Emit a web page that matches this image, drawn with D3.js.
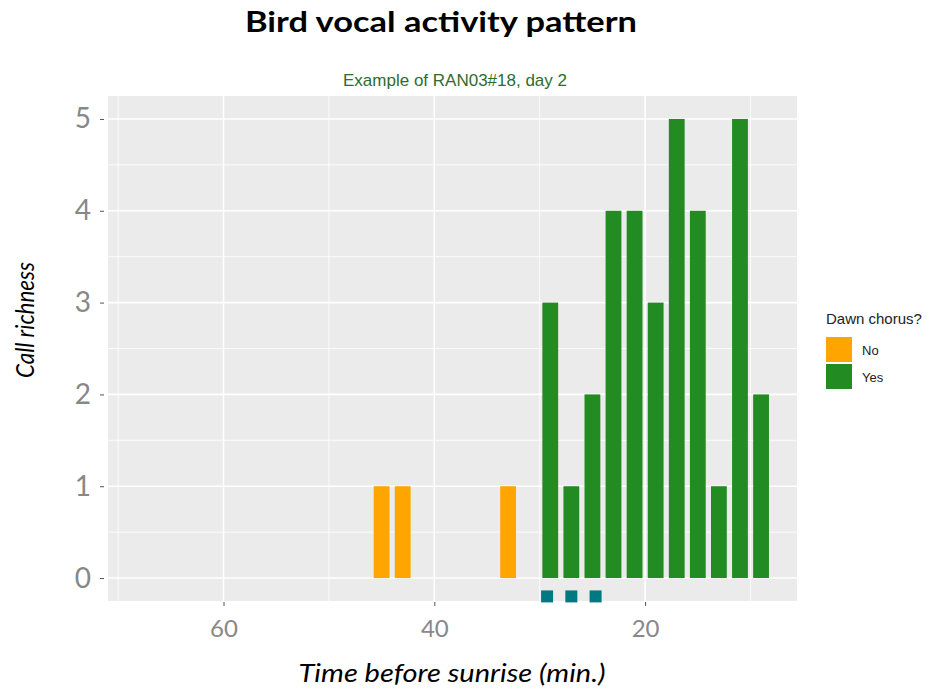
<!DOCTYPE html>
<html>
<head>
<meta charset="utf-8">
<script src="https://cdn.jsdelivr.net/npm/d3@7"></script>
<style>
  body { margin: 0; background: #fff; }
  svg { display: block; font-family: Lato, "Open Sans", sans-serif; }
</style>
</head>
<body>
<svg id="container" width="946" height="689"></svg>
<script>
// minutes before sunrise, one bar per recording slot
const times = [45, 43, 33, 29, 27, 25, 23, 21, 19, 17, 15, 13, 11, 9];
const richness = [1, 1, 1, 3, 1, 2, 4, 4, 3, 5, 4, 1, 5, 2];
const chorus = ["No", "No", "No", "Yes", "Yes", "Yes", "Yes", "Yes", "Yes", "Yes", "Yes", "Yes", "Yes", "Yes"];
// small markers under the start of the chorus
const markTimes = [29.3, 27.0, 24.7];
const markLevel = -0.2;

const xTicks = [60, 40, 20];
const yTicks = [0, 1, 2, 3, 4, 5];
const categories = ["No", "Yes"];

const panel = { left: 108, right: 797, top: 96, bottom: 601 };
const barW = 1.5; // in minutes

let color = d3.scaleOrdinal().domain(categories).range(["#FFA500", "#228B22"]);

let xScale = d3.scaleLinear().domain([70.96, 5.59]).range([panel.left, panel.right]);
let yScale = d3.scaleLinear().domain([-0.25, 5.25]).range([panel.bottom, panel.top]);

let svg = d3.select("#container");

// titles
svg.append("text")
  .attr("x", 441).attr("y", 32)
  .attr("text-anchor", "middle")
  .attr("textLength", 392).attr("lengthAdjust", "spacingAndGlyphs")
  .style("font-size", "29px").style("font-weight", "bold")
  .attr("fill", "#000")
  .text("Bird vocal activity pattern");

svg.append("text")
  .attr("x", 455).attr("y", 86)
  .attr("text-anchor", "middle")
  .style("font-family", "Liberation Sans, Arial, sans-serif")
  .style("font-size", "17px")
  .attr("fill", "#2F6B2F")
  .text("Example of RAN03#18, day 2");

// panel background
svg.append("rect")
  .attr("x", panel.left).attr("y", panel.top)
  .attr("width", panel.right - panel.left)
  .attr("height", panel.bottom - panel.top)
  .attr("fill", "#EBEBEB");

// grid
let grid = svg.append("g");
let xMinor = [70, 50, 30, 10];
let yMinor = [0.5, 1.5, 2.5, 3.5, 4.5];
grid.selectAll(".xminor").data(xMinor).enter().append("line")
  .attr("x1", d => xScale(d)).attr("x2", d => xScale(d))
  .attr("y1", panel.top).attr("y2", panel.bottom)
  .attr("stroke", "#fff").attr("stroke-width", 0.8);
grid.selectAll(".yminor").data(yMinor).enter().append("line")
  .attr("x1", panel.left).attr("x2", panel.right)
  .attr("y1", d => yScale(d)).attr("y2", d => yScale(d))
  .attr("stroke", "#fff").attr("stroke-width", 0.8);
grid.selectAll(".xmajor").data(xTicks).enter().append("line")
  .attr("x1", d => xScale(d)).attr("x2", d => xScale(d))
  .attr("y1", panel.top).attr("y2", panel.bottom)
  .attr("stroke", "#fff").attr("stroke-width", 1.6);
grid.selectAll(".ymajor").data(yTicks).enter().append("line")
  .attr("x1", panel.left).attr("x2", panel.right)
  .attr("y1", d => yScale(d)).attr("y2", d => yScale(d))
  .attr("stroke", "#fff").attr("stroke-width", 1.6);

// bars
let data = times.map((t, i) => ({ t: t, v: richness[i], c: chorus[i] }));
svg.append("g").selectAll("rect")
  .data(data).enter()
  .append("rect")
  .attr("x", d => xScale(d.t + barW / 2))
  .attr("width", d => xScale(d.t - barW / 2) - xScale(d.t + barW / 2))
  .attr("y", d => yScale(d.v))
  .attr("height", d => yScale(0) - yScale(d.v))
  .attr("fill", d => color(d.c));

// markers
svg.append("g").selectAll("rect")
  .data(markTimes).enter()
  .append("rect")
  .attr("x", d => xScale(d) - 6)
  .attr("y", yScale(markLevel) - 6)
  .attr("width", 12).attr("height", 12)
  .attr("fill", "#007A80");

// axes
let xAxis = d3.axisBottom(xScale).tickValues(xTicks).tickSize(4).tickPadding(14);
svg.append("g")
  .attr("transform", `translate(0,${panel.bottom + 1})`)
  .call(xAxis)
  .call(g => g.select(".domain").remove())
  .call(g => g.selectAll("line").attr("stroke", "#555"))
  .selectAll("text")
  .attr("fill", "#888")
  .style("font-size", "24px")
  .style("font-family", "Lato, 'Open Sans', sans-serif");

let yAxis = d3.axisLeft(yScale).tickValues(yTicks).tickFormat(d3.format("d")).tickSize(4).tickPadding(9);
svg.append("g")
  .attr("transform", `translate(${panel.left - 4},0)`)
  .call(yAxis)
  .call(g => g.select(".domain").remove())
  .call(g => g.selectAll("line").attr("stroke", "#555"))
  .selectAll("text")
  .attr("fill", "#888")
  .style("font-size", "28px")
  .style("font-family", "Lato, 'Open Sans', sans-serif");

// axis titles
svg.append("text")
  .attr("x", 452).attr("y", 682)
  .attr("text-anchor", "middle")
  .attr("textLength", 307).attr("lengthAdjust", "spacingAndGlyphs")
  .style("font-size", "26px").style("font-style", "italic")
  .attr("fill", "#000")
  .text("Time before sunrise (min.)");

svg.append("text")
  .attr("transform", "translate(34,320) rotate(-90)")
  .attr("text-anchor", "middle")
  .attr("textLength", 116).attr("lengthAdjust", "spacingAndGlyphs")
  .style("font-size", "25px").style("font-style", "italic")
  .attr("fill", "#000")
  .text("Call richness");

// legend
let legend = svg.append("g").attr("transform", "translate(826,318)");
legend.append("text")
  .attr("x", 0).attr("y", 6)
  .style("font-family", "Liberation Sans, Arial, sans-serif")
  .style("font-size", "15px")
  .attr("fill", "#222")
  .text("Dawn chorus?");
let items = legend.selectAll(".item").data(categories).enter()
  .append("g")
  .attr("transform", (d, i) => `translate(0,${19 + i * 27})`);
items.append("rect")
  .attr("width", 26).attr("height", 25)
  .attr("fill", d => color(d));
items.append("text")
  .attr("x", 36).attr("y", 18)
  .style("font-family", "Liberation Sans, Arial, sans-serif")
  .style("font-size", "13px")
  .attr("fill", "#222")
  .text(d => d);
</script>
</body>
</html>
